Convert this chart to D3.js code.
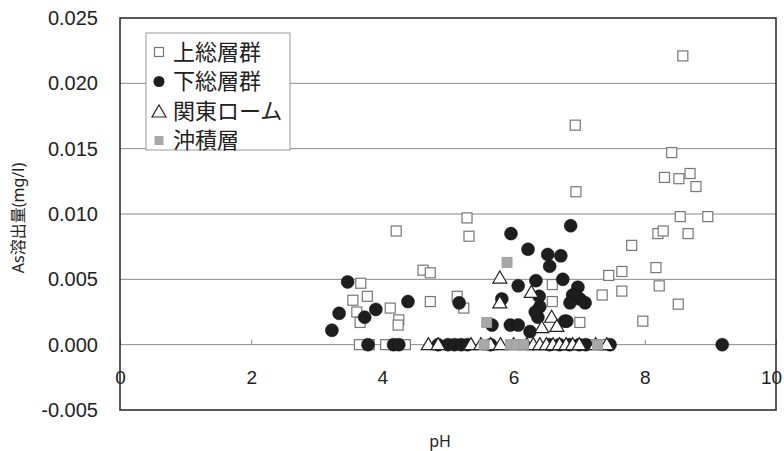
<!DOCTYPE html>
<html><head><meta charset="utf-8">
<script src="https://cdn.jsdelivr.net/npm/d3@7"></script>
<style>
body{margin:0;background:#fff;}
svg{display:block;font-family:"Noto Sans","Noto Sans CJK JP",sans-serif;}
</style></head>
<body><svg id="chart" width="784" height="451"></svg>
<script>
// ---- data: [pH, As (mg/l)] ----
const seriesNames = ["上総層群", "下総層群", "関東ローム", "沖積層"];
const kazusa = [[8.58,0.0221],[6.94,0.0168],[8.41,0.0147],[8.30,0.0128],[8.52,0.0127],[8.69,0.0131],[8.78,0.0121],
  [6.95,0.0117],[8.54,0.0098],[8.96,0.0098],[8.20,0.0085],[8.28,0.0087],[8.66,0.0085],[7.80,0.0076],[8.17,0.0059],
  [7.65,0.0056],[7.45,0.0053],[8.22,0.0045],[7.65,0.0041],[7.35,0.0038],[8.51,0.0031],[7.97,0.0018],[7.01,0.0017],
  [6.59,0.0046],[6.59,0.0033],[5.29,0.0097],[4.21,0.0087],[5.32,0.0083],[4.62,0.0057],[4.73,0.0055],[3.67,0.0047],
  [3.77,0.0037],[3.55,0.0034],[3.61,0.0025],[3.66,0.0017],[4.12,0.0028],[4.25,0.0019],[4.24,0.0015],[4.73,0.0033],
  [5.14,0.0037],[5.24,0.0028],[3.65,0],[3.80,0],[4.05,0],[4.20,0],[4.35,0],[7.20,0],[7.35,0]];
const shimousa = [[5.96,0.0085],[6.87,0.0091],[6.22,0.0073],[6.52,0.0069],[6.72,0.0068],[6.55,0.0060],[3.47,0.0048],
  [6.07,0.0045],[6.34,0.0049],[6.75,0.0050],[6.98,0.0044],[7.01,0.0035],[6.90,0.0038],[7.09,0.0032],[6.86,0.0032],
  [6.40,0.0029],[6.39,0.0037],[6.37,0.0021],[6.33,0.0025],[6.78,0.0018],[6.81,0.0018],[5.95,0.0015],[6.07,0.0015],
  [6.25,0.0010],[5.82,0.0035],[5.67,0.0015],[4.39,0.0033],[3.90,0.0027],[3.34,0.0024],[3.73,0.0021],[3.23,0.0011],
  [5.17,0.0032],[3.78,0],[4.17,0],[4.25,0],[4.85,0],[5.00,0],[5.10,0],[5.20,0],[5.30,0],[5.65,0],[6.55,0],[6.70,0],
  [6.85,0],[7.00,0],[7.10,0],[7.47,0],[9.18,0]];
const kanto = [[5.79,0.0051],[6.27,0.0040],[5.79,0.0032],[6.58,0.0021],[6.43,0.0013],[6.66,0.0014],
  [4.70,0],[4.85,0],[5.35,0],[5.50,0],[5.65,0],[5.80,0],[6.00,0],[6.20,0],[6.30,0],[6.40,0],[6.50,0],[6.60,0],
  [6.70,0],[6.80,0],[6.90,0],[7.00,0],[7.25,0],[7.42,0]];
const chuseki = [[5.90,0.0063],[5.59,0.0017],[5.55,0],[5.95,0],[6.05,0],[6.15,0],[7.28,0]];
const xTicks = [0, 2, 4, 6, 8, 10];
const yTicks = [-0.005, 0, 0.005, 0.010, 0.015, 0.020, 0.025];
const xTitle = "pH";
const yTitle = "As溶出量(mg/l)";

const svg = d3.select("#chart");
const L = 120, R = 776, T = 18, B = 410;
const x = d3.scaleLinear().domain([0, 10]).range([L, R]);
const y = d3.scaleLinear().domain([-0.005, 0.025]).range([B, T]);

// gridlines
svg.append("g").selectAll("line").data(yTicks.filter(d => d > -0.005 && d < 0.025)).join("line")
  .attr("x1", L).attr("x2", R).attr("y1", d => y(d)).attr("y2", d => y(d))
  .attr("stroke", "#8a8a8a").attr("stroke-width", 1);

// y axis labels
const yAxis = d3.axisLeft(y).tickValues(yTicks).tickSize(0).tickPadding(22)
  .tickFormat(d => d3.format(".3f")(d).replace("\u2212", "-"));
const gy = svg.append("g").attr("transform", `translate(${L},0)`).call(yAxis);
gy.select(".domain").remove();
gy.selectAll("text").attr("font-size", 20).attr("fill", "#222");

// x axis on zero line
const xAxis = d3.axisBottom(x).tickValues(xTicks).tickSize(-5).tickPadding(26).tickFormat(d3.format("d"));
const gx = svg.append("g").attr("transform", `translate(0,${y(0)})`).call(xAxis);
gx.select(".domain").remove();
gx.selectAll(".tick line").attr("stroke", "#8a8a8a");
gx.selectAll("text").attr("font-size", 19).attr("fill", "#222")
  .attr("dx", d => d === 10 ? -5 : 0);

// frame
svg.append("rect").attr("x", L).attr("y", T).attr("width", R - L).attr("height", B - T)
  .attr("fill", "none").attr("stroke", "#222").attr("stroke-width", 1.5);

// markers
const sq = 10, cr = 6.5, tw = 14, th = 12;
const tri = (cx, cy, w, h) => `M${cx},${cy - h / 2}L${cx + w / 2},${cy + h / 2}L${cx - w / 2},${cy + h / 2}Z`;
svg.append("g").selectAll("rect").data(kazusa).join("rect")
  .attr("x", d => x(d[0]) - sq / 2).attr("y", d => y(d[1]) - sq / 2).attr("width", sq).attr("height", sq)
  .attr("fill", "#fff").attr("stroke", "#777").attr("stroke-width", 1.2);
svg.append("g").selectAll("circle").data(shimousa).join("circle")
  .attr("cx", d => x(d[0])).attr("cy", d => y(d[1])).attr("r", cr)
  .attr("fill", "#1e1e1e").attr("stroke", "#111").attr("stroke-width", 0.5);
svg.append("g").selectAll("path").data(kanto).join("path")
  .attr("d", d => tri(x(d[0]), y(d[1]) - 1, tw, th))
  .attr("fill", "#fff").attr("stroke", "#222").attr("stroke-width", 1.2);
svg.append("g").selectAll("rect").data(chuseki).join("rect")
  .attr("x", d => x(d[0]) - sq / 2).attr("y", d => y(d[1]) - sq / 2).attr("width", sq).attr("height", sq)
  .attr("fill", "#a8a8a8").attr("stroke", "#999").attr("stroke-width", 0.8);

// legend
const lg = svg.append("g");
lg.append("rect").attr("x", 146).attr("y", 33).attr("width", 144).attr("height", 117)
  .attr("fill", "#fff").attr("stroke", "#999").attr("stroke-width", 1);
const rowY = i => 52 + i * 29.5;
seriesNames.forEach((name, i) => {
  const cy = rowY(i), cx = 159;
  if (i === 0) lg.append("rect").attr("x", cx - 4.5).attr("y", cy - 4.5).attr("width", 9).attr("height", 9)
    .attr("fill", "#fff").attr("stroke", "#777").attr("stroke-width", 1.2);
  if (i === 1) lg.append("circle").attr("cx", cx).attr("cy", cy).attr("r", 5.5).attr("fill", "#1e1e1e");
  if (i === 2) lg.append("path").attr("d", tri(cx, cy, 14, 12)).attr("fill", "#fff").attr("stroke", "#222").attr("stroke-width", 1.2);
  if (i === 3) lg.append("rect").attr("x", cx - 4.5).attr("y", cy - 4.5).attr("width", 9).attr("height", 9).attr("fill", "#a8a8a8");
  lg.append("text").attr("x", 173).attr("y", cy).attr("dy", "0.36em")
    .attr("font-family", "'Noto Sans CJK JP',sans-serif").attr("font-size", 22).attr("fill", "#222").text(name);
});

// titles
svg.append("text").attr("x", 440).attr("y", 441).attr("dy", "0.36em").attr("text-anchor", "middle")
  .attr("font-size", 16).attr("fill", "#222").text(xTitle);
svg.append("text").attr("transform", "translate(18,218) rotate(-90)").attr("dy", "0.36em").attr("text-anchor", "middle")
  .attr("font-family", "'Noto Sans','Noto Sans CJK JP',sans-serif")
  .attr("font-size", 16).attr("fill", "#222").text(yTitle);
</script></body></html>
